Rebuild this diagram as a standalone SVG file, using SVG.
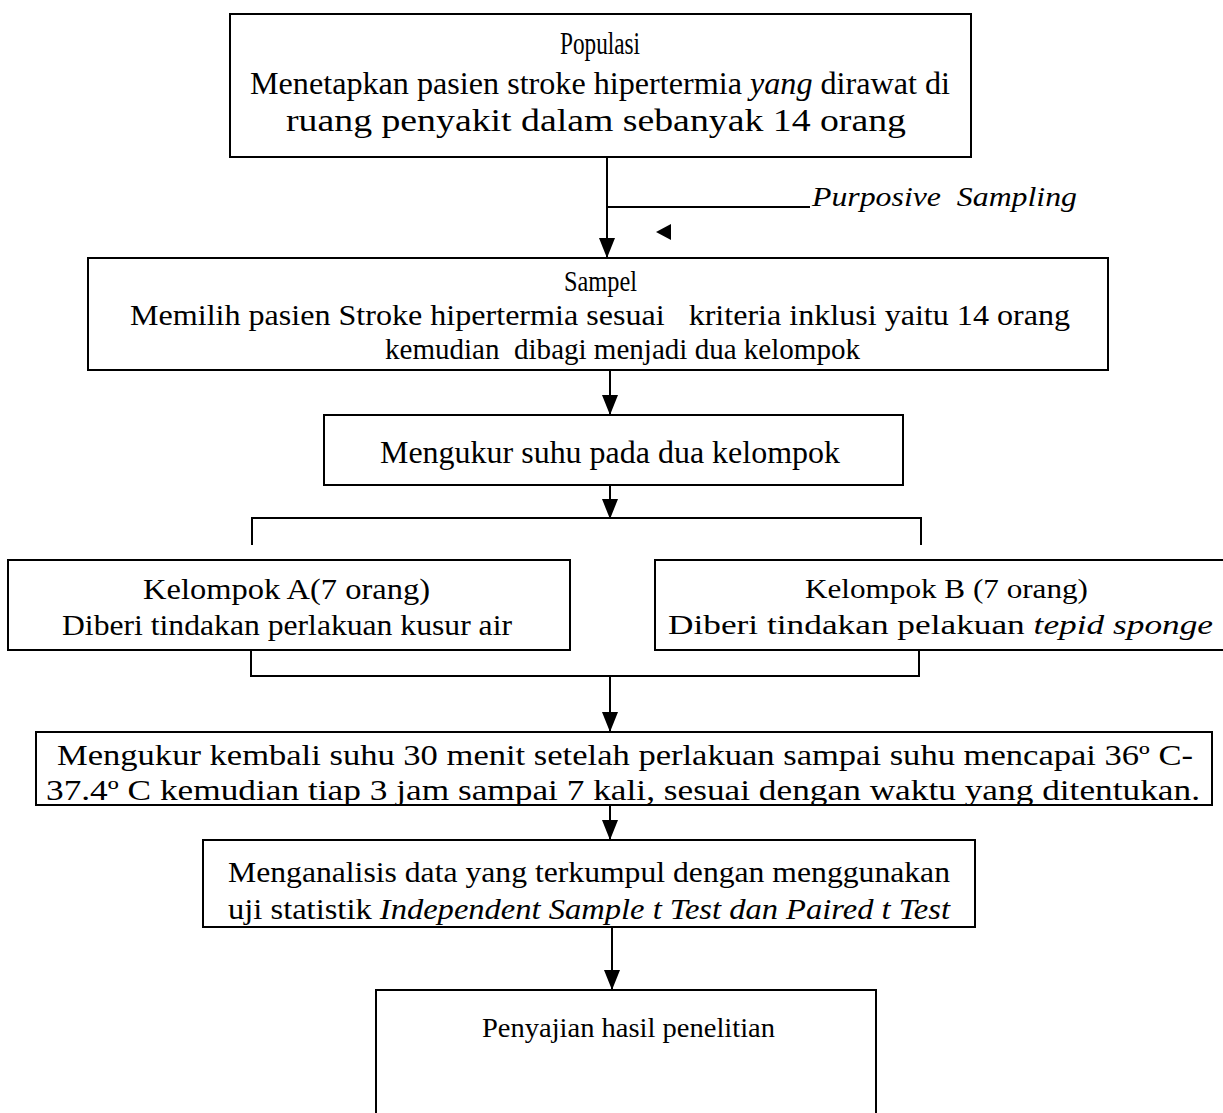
<svg xmlns="http://www.w3.org/2000/svg" width="1223" height="1113" viewBox="0 0 1223 1113">
<style>
.box{fill:#fff;stroke:#000;stroke-width:2}
.ln{fill:none;stroke:#000;stroke-width:2}
text{font-family:"Liberation Serif","Times New Roman",serif;font-size:29px;fill:#000}
.b{font-size:32px}
.n{font-size:28px}
.i{font-style:italic}
</style>
<defs>
<marker id="ah" viewBox="0 0 20 16" refX="20" refY="8" markerWidth="20" markerHeight="16" markerUnits="userSpaceOnUse" orient="auto">
<path d="M0,0 L20,8 L0,16 Z" fill="#000"/>
</marker>
</defs>
<rect width="1223" height="1113" fill="#fff"/>
<g id="connectors">
<line class="ln" x1="607" y1="157" x2="607" y2="258" marker-end="url(#ah)"/>
<line class="ln" x1="607" y1="207" x2="810" y2="207"/>
<path d="M656,232 L671,224 L671,240 Z" fill="#000"/>
<line class="ln" x1="610" y1="370" x2="610" y2="415" marker-end="url(#ah)"/>
<line class="ln" x1="610" y1="485" x2="610" y2="519" marker-end="url(#ah)"/>
<path class="ln" d="M252,545 V518 H921 V545"/>
<path class="ln" d="M251,650 V676 H919 V650"/>
<line class="ln" x1="610" y1="676" x2="610" y2="732" marker-end="url(#ah)"/>
<line class="ln" x1="610" y1="805" x2="610" y2="840" marker-end="url(#ah)"/>
<line class="ln" x1="612" y1="927" x2="612" y2="990" marker-end="url(#ah)"/>
<text x="812" y="206" class="i n" textLength="265" lengthAdjust="spacingAndGlyphs">Purposive&#160; Sampling</text>
</g>
<g id="populasi">
<rect class="box" x="230" y="14" width="741" height="143"/>
<text x="560" y="54" class="b" textLength="80" lengthAdjust="spacingAndGlyphs">Populasi</text>
<text x="250" y="94" class="b" textLength="700" lengthAdjust="spacingAndGlyphs">Menetapkan pasien stroke hipertermia <tspan class="i">yang</tspan> dirawat di</text>
<text x="286" y="131" class="b" textLength="620" lengthAdjust="spacingAndGlyphs">ruang penyakit dalam sebanyak 14 orang</text>
</g>
<g id="sampel">
<rect class="box" x="88" y="258" width="1020" height="112"/>
<text x="564" y="291" textLength="73" lengthAdjust="spacingAndGlyphs">Sampel</text>
<text x="130" y="325" textLength="940" lengthAdjust="spacingAndGlyphs">Memilih pasien Stroke hipertermia sesuai&#160;&#160; kriteria inklusi yaitu 14 orang</text>
<text x="385" y="359" textLength="475" lengthAdjust="spacingAndGlyphs">kemudian&#160; dibagi menjadi dua kelompok</text>
</g>
<g id="mengukur">
<rect class="box" x="324" y="415" width="579" height="70"/>
<text x="380" y="463" class="b" textLength="460" lengthAdjust="spacingAndGlyphs">Mengukur suhu pada dua kelompok</text>
</g>
<g id="kelompok-a">
<rect class="box" x="8" y="560" width="562" height="90"/>
<text x="143" y="599" textLength="287" lengthAdjust="spacingAndGlyphs">Kelompok A(7 orang)</text>
<text x="62" y="635" textLength="450" lengthAdjust="spacingAndGlyphs">Diberi tindakan perlakuan kusur air</text>
</g>
<g id="kelompok-b">
<rect class="box" x="655" y="560" width="580" height="90"/>
<text x="805" y="598" class="n" textLength="283" lengthAdjust="spacingAndGlyphs">Kelompok B (7 orang)</text>
<text x="668" y="634" class="n" textLength="545" lengthAdjust="spacingAndGlyphs">Diberi tindakan pelakuan <tspan class="i">tepid sponge</tspan></text>
</g>
<g id="mengukur-kembali">
<rect class="box" x="36" y="732" width="1176" height="73"/>
<text x="57" y="765" textLength="1136" lengthAdjust="spacingAndGlyphs">Mengukur kembali suhu 30 menit setelah perlakuan sampai suhu mencapai 36º C-</text>
<text x="46" y="800" textLength="1154" lengthAdjust="spacingAndGlyphs">37.4º C kemudian tiap 3 jam sampai 7 kali, sesuai dengan waktu yang ditentukan.</text>
</g>
<g id="analisis">
<rect class="box" x="203" y="840" width="772" height="87"/>
<text x="228" y="882" textLength="722" lengthAdjust="spacingAndGlyphs">Menganalisis data yang terkumpul dengan menggunakan</text>
<text x="228" y="919" textLength="722" lengthAdjust="spacingAndGlyphs">uji statistik <tspan class="i">Independent Sample t Test dan Paired t Test</tspan></text>
</g>
<g id="penyajian">
<rect class="box" x="376" y="990" width="500" height="140"/>
<text x="482" y="1037" class="n" textLength="293" lengthAdjust="spacingAndGlyphs">Penyajian hasil penelitian</text>
</g>
</svg>
